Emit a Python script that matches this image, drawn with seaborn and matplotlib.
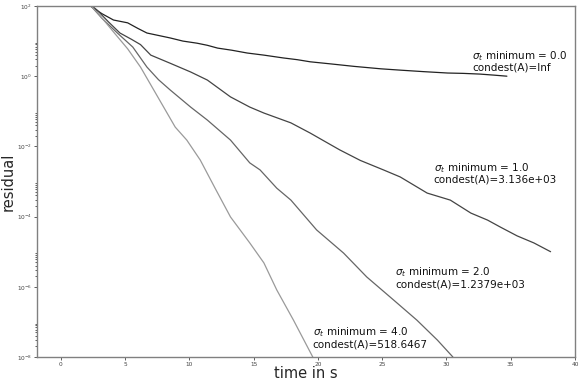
import numpy as np
import pandas as pd
import matplotlib
matplotlib.use("Agg")
import matplotlib.pyplot as plt
from matplotlib.ticker import NullFormatter
import seaborn as sns

# residual curves (log10 of residual)
t_s0 = [2.0, 2.3, 3.2, 4.1, 5.2, 6.0, 6.7, 7.6, 8.5, 9.5, 10.6, 11.4, 12.2, 13.3, 14.5,
        15.8, 17.3, 18.4, 19.4, 21.0, 22.8, 24.9, 26.5, 28.2, 30.1, 31.3, 32.6, 33.7, 34.7]
r_s0 = [2.07, 2.0, 1.78, 1.6, 1.52, 1.36, 1.23, 1.16, 1.09, 1.0, 0.94, 0.88, 0.80, 0.74, 0.66,
        0.60, 0.52, 0.47, 0.41, 0.35, 0.28, 0.21, 0.17, 0.13, 0.09, 0.08, 0.06, 0.03, 0.0]

t_s1 = [2.1, 2.8, 3.7, 4.6, 5.5, 6.2, 7.0, 8.5, 10.1, 11.4, 12.3, 13.2, 14.7, 15.8, 17.9,
        19.4, 20.5, 21.7, 23.3, 25.1, 26.4, 28.5, 30.3, 31.9, 33.2, 34.2, 35.5, 36.8, 38.1]
r_s1 = [2.1, 1.89, 1.55, 1.23, 1.05, 0.9, 0.6, 0.37, 0.12, -0.11, -0.35, -0.59, -0.88, -1.05, -1.33,
        -1.62, -1.85, -2.1, -2.4, -2.67, -2.87, -3.33, -3.53, -3.9, -4.1, -4.3, -4.55, -4.75, -5.0]

t_s2 = [2.1, 3.2, 4.4, 5.6, 6.7, 7.6, 8.5, 10.1, 11.4, 13.2, 14.7, 15.5, 16.8, 17.9, 19.9,
        22.0, 23.8, 25.9, 27.7, 29.3, 30.5]
r_s2 = [2.1, 1.65, 1.23, 0.83, 0.26, -0.1, -0.39, -0.88, -1.25, -1.82, -2.47, -2.67, -3.19, -3.53, -4.38,
        -5.04, -5.72, -6.38, -6.95, -7.52, -8.0]

t_s4 = [2.1, 3.0, 4.1, 5.2, 6.2, 8.9, 9.8, 10.85, 12.0, 13.2, 14.7, 15.8, 16.8, 18.1, 19.6]
r_s4 = [2.1, 1.75, 1.26, 0.78, 0.26, -1.45, -1.82, -2.39, -3.19, -4.01, -4.75, -5.32, -6.09, -6.95, -8.0]

sigmas = ["0.0", "1.0", "2.0", "4.0"]
condest = ["Inf", "3.136e+03", "1.2379e+03", "518.6467"]
grays = ["#222222", "#444444", "#666666", "#9a9a9a"]

frames = []
for s, t, r in zip(sigmas, [t_s0, t_s1, t_s2, t_s4], [r_s0, r_s1, r_s2, r_s4]):
    frames.append(pd.DataFrame({"time": t, "residual": 10.0 ** np.array(r), "sigma": s}))
df = pd.concat(frames, ignore_index=True)

sns.set_style("ticks")
fig = plt.figure(figsize=(5.82, 3.86), dpi=100)
ax = fig.add_axes([0.0636, 0.0751, 0.9244, 0.9094])

sns.lineplot(data=df, x="time", y="residual", hue="sigma", palette=grays,
             estimator=None, sort=False, legend=False, linewidth=0.9, ax=ax)

ax.set_yscale("log")
ax.set_ylim(1e-8, 1e2)
ax.set_xlim(-1.85, 40)
ax.set_yticks([1e-8, 1e-6, 1e-4, 1e-2, 1e0, 1e2])
# old-style minor ticks: 2..9 x 10^k for the labelled decades only
minor = [m * 10.0 ** k for k in range(-8, 1, 2) for m in range(2, 10)]
ax.set_yticks(minor, minor=True)
ax.yaxis.set_minor_formatter(NullFormatter())
ax.set_xticks(range(0, 41, 5))

# annotations: (x, log10 y) of text block centre-left
label_pos = [(32.0, 0.43), (29.0, -2.76), (26.0, -5.73), (19.6, -7.44)]
for s, c, (tx, ty) in zip(sigmas, condest, label_pos):
    ax.text(tx, 10 ** ty, "$\\sigma_t$ minimum = %s\ncondest(A)=%s" % (s, c),
            fontsize=7.5, va="center", ha="left", color="#111111", linespacing=1.0)

ax.set_xlabel("time in s", fontsize=10.5)
ax.set_ylabel("residual", fontsize=10.5)
ax.yaxis.set_label_coords(-0.040, 0.5)
ax.xaxis.set_label_coords(0.5, -0.026)
ax.tick_params(axis="both", which="both", labelsize=4.2, colors="#444444",
               length=2, width=0.6, pad=1.5)
ax.tick_params(axis="y", which="minor", length=1.5)
for sp in ax.spines.values():
    sp.set_color("#808080")
    sp.set_linewidth(1.0)

fig.savefig("out.png", dpi=100)
